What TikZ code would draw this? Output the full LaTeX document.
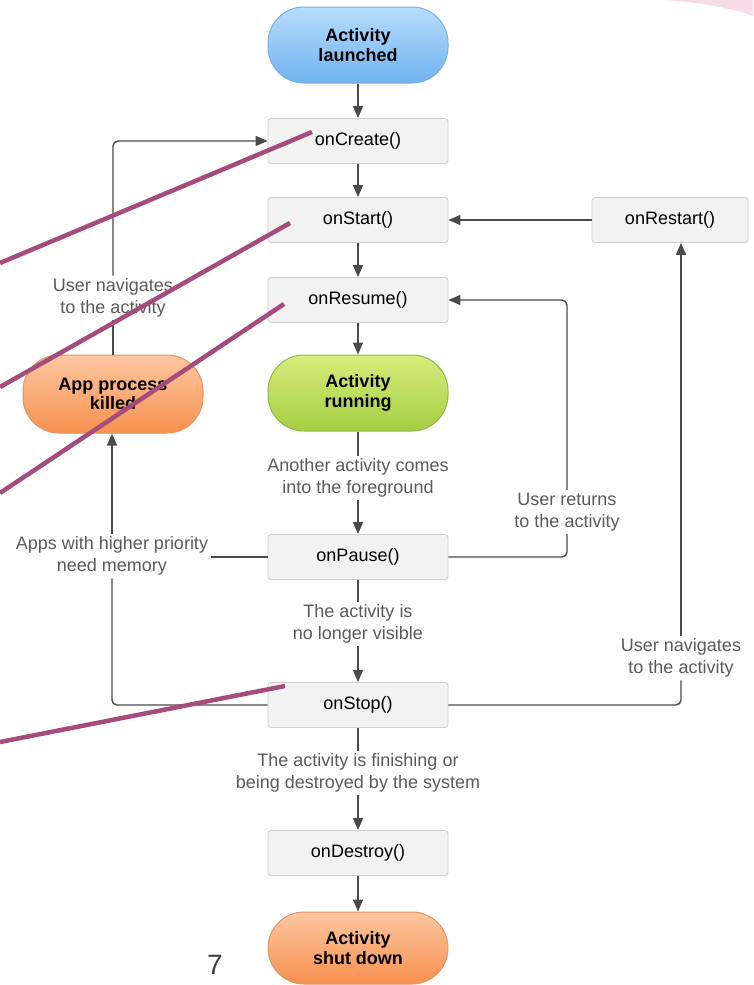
\documentclass[tikz,border=0pt]{standalone}
\usepackage{fontspec}
\setmainfont{Liberation Sans}
\usetikzlibrary{arrows.meta}
\definecolor{arrowc}{HTML}{4A4A4A}
\definecolor{boxfill}{HTML}{F2F2F2}
\definecolor{boxborder}{HTML}{CFCFCF}
\definecolor{labelc}{HTML}{5A5A5A}
\definecolor{notec}{HTML}{A64C7C}
\definecolor{bluetop}{HTML}{B8DCFB}
\definecolor{bluebot}{HTML}{6FB3F0}
\definecolor{blueline}{HTML}{7BAEDF}
\definecolor{greentop}{HTML}{D8ED7C}
\definecolor{greenbot}{HTML}{A3CE42}
\definecolor{greenline}{HTML}{93B74B}
\definecolor{orangetop}{HTML}{FDC7A0}
\definecolor{orangebot}{HTML}{F7904F}
\definecolor{orangeline}{HTML}{E39563}
\definecolor{swoosh}{HTML}{F8DDE9}
\begin{document}
\begin{tikzpicture}[x=1pt,y=-1pt,
  method/.style={draw=boxborder, fill=boxfill, rounded corners=3pt, line width=0.8pt,
    minimum width=180pt, minimum height=45pt, inner sep=0pt,
    font=\fontsize{18}{20}\selectfont, text=black},
  pill/.style={rounded corners=36pt, minimum width=180pt, minimum height=76pt, inner sep=0pt,
    font=\bfseries\fontsize{18}{19.5}\selectfont, align=center, line width=1pt, text=black},
  bluepill/.style={pill, draw=blueline, top color=bluetop, bottom color=bluebot},
  greenpill/.style={pill, draw=greenline, top color=greentop, bottom color=greenbot},
  orangepill/.style={pill, draw=orangeline, top color=orangetop, bottom color=orangebot},
  lbl/.style={text=labelc, align=center, font=\fontsize{18}{21.5}\selectfont, inner sep=3pt},
  flow/.style={draw=arrowc, line width=1.4pt, -{Triangle[length=12pt,width=10pt]}},
  plainline/.style={draw=arrowc, line width=1.4pt},
  note/.style={draw=notec, line width=4.5pt}]
\useasboundingbox (0,0) rectangle (753,985);
\fill[swoosh] (665,0) .. controls (705,3) and (735,9) .. (753,16) -- (753,0) -- cycle;

% lifecycle nodes
\node[bluepill] (launched) at (358,45) {Activity\\launched};
\node[method] (onCreate) at (358,141) {onCreate()};
\node[method] (onStart) at (358,220) {onStart()};
\node[method] (onResume) at (358,300) {onResume()};
\node[greenpill] (running) at (358,393) {Activity\\running};
\node[method] (onPause) at (358,557) {onPause()};
\node[method] (onStop) at (358,705) {onStop()};
\node[method] (onDestroy) at (358,853) {onDestroy()};
\node[orangepill, minimum height=72pt] (shutdown) at (358,948) {Activity\\shut down};
\node[method, minimum width=156pt] (onRestart) at (670,220) {onRestart()};
\node[orangepill, minimum height=78pt] (killed) at (113,394) {App process\\killed};

% labels
\node[lbl] (lAnother) at (358,478) {Another activity comes\\into the foreground};
\node[lbl] (lNoLonger) at (358,624) {The activity is\\no longer visible};
\node[lbl] (lFinishing) at (358,773) {The activity is finishing or\\being destroyed by the system};
\node[lbl] (lReturns) at (567,512) {User returns\\to the activity};
\node[lbl] (lNavR) at (681,658) {User navigates\\to the activity};
\node[lbl] (lNavL) at (113,298) {User navigates\\to the activity};
\node[lbl] (lApps) at (112,556) {Apps with higher priority\\need memory};
\node[text=black!75, font=\fontsize{28}{30}\selectfont] (pageno) at (215,965) {7};

% main flow
\draw[flow] (launched) -- (onCreate);
\draw[flow] (onCreate) -- (onStart);
\draw[flow] (onStart) -- (onResume);
\draw[flow] (onResume) -- (running);
\draw[plainline] (running) -- (lAnother);
\draw[flow] (lAnother) -- (onPause);
\draw[plainline] (onPause) -- (lNoLonger);
\draw[flow] (lNoLonger) -- (onStop);
\draw[plainline] (onStop) -- (lFinishing);
\draw[flow] (lFinishing) -- (onDestroy);
\draw[flow] (onDestroy) -- (shutdown);

% side loops
\draw[flow] (onRestart.west) -- (onStart.east);
\draw[plainline, rounded corners=5pt] (onStop.east) -| (lNavR.south);
\draw[flow] (lNavR.north) -- (lNavR.north |- onRestart.south);
\draw[plainline, rounded corners=5pt] (onPause.east) -| (lReturns.south);
\draw[flow, rounded corners=5pt] (lReturns.north) |- (onResume.east);
\draw[plainline, rounded corners=5pt] (onStop.west) -| (lApps.south);
\draw[plainline] (onPause.west) -- (onPause.west -| lApps.east);
\draw[flow] (lApps.north) -- (lApps.north |- killed.south);
\draw[plainline] (killed.north) -- (lNavL.south);
\draw[flow, rounded corners=5pt] (lNavL.north) |- (onCreate.west);

% annotation strokes
\coordinate (n1s) at (0,263);   \coordinate (n1e) at (312,132);
\coordinate (n2s) at (0,387);   \coordinate (n2e) at (290,223);
\coordinate (n3s) at (0,493);   \coordinate (n3e) at (284,304);
\coordinate (n4s) at (0,742);   \coordinate (n4e) at (285,686);
\draw[note] (n1s) -- (n1e);
\draw[note] (n2s) -- (n2e);
\draw[note] (n3s) -- (n3e);
\draw[note] (n4s) -- (n4e);
\end{tikzpicture}
\end{document}
